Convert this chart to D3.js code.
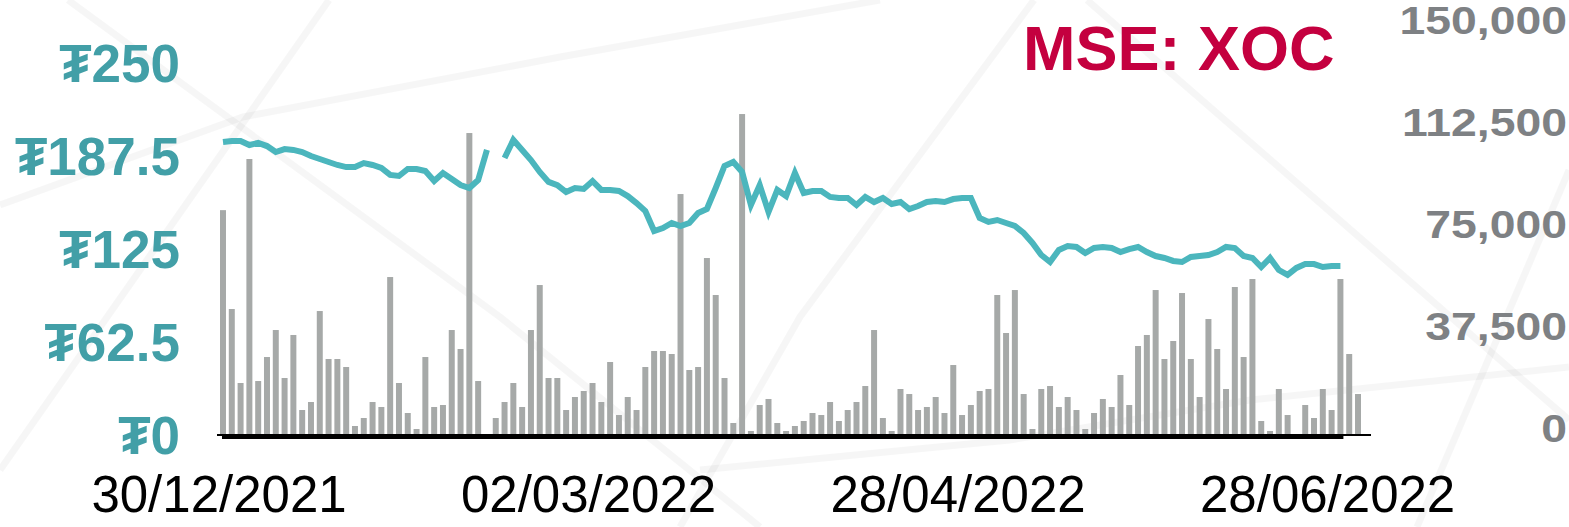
<!DOCTYPE html>
<html lang="mn">
<head>
  <meta charset="UTF-8">
  <title>MSE: XOC</title>
  <style>
    body {
      margin: 0;
      background: #fff;
    }
    svg {
      display: block;
    }
    text {
      font-family: "Liberation Sans", Arial, Helvetica, sans-serif;
    }
  </style>
</head>
<body>
  <svg id="chart" width="1569" height="527"></svg>

  <script src="https://d3js.org/d3.v7.min.js"></script>
  <script>
    // daily traded volume (right axis)
    const volume = [
      82300, 45950, 18750, 101100, 19480, 28300, 38230, 20590, 36400, 8820,
      11760, 45210, 27570, 27570, 24630, 2940, 5880, 11760, 9930, 57710,
      18750, 7720, 1840, 28300, 9930, 10660, 38230, 31250, 110650, 19480,
      0, 5880, 11760, 18750, 9930, 38230, 54770, 20590, 20590, 8820,
      13600, 15810, 18750, 11760, 26470, 6980, 13600, 8820, 24630, 30510,
      30510, 29410, 88220, 23530, 24630, 64700, 51100, 20590, 4040, 117630,
      1100, 10660, 12870, 4040, 1100, 2940, 4780, 7720, 6980, 11760,
      4780, 8820, 11760, 17640, 38230, 5880, 1100, 16540, 14700, 8820,
      9930, 13600, 7720, 25360, 6980, 10660, 15810, 16540, 51100, 37130,
      52930, 14700, 1840, 16540, 17640, 9930, 13600, 8820, 1840, 7720,
      12870, 9930, 21690, 10660, 32350, 36400, 52930, 27570, 34190, 51830,
      27570, 13600, 42270, 31250, 16540, 54040, 28300, 56980, 4780, 1100,
      16540, 6980, 0, 10660, 5880, 16540, 8820, 56980, 29410, 14700
    ];

    // closing price in tugrik (left axis), null = no trade
    const price = [
      196.2, 196.9, 196.9, 194.2, 195.6, 193.5, 189.5, 191.5, 190.9, 189.5,
      186.8, 184.8, 182.8, 180.8, 179.4, 179.4, 182.1, 180.8, 178.8, 174.1,
      173.4, 178.1, 178.1, 176.7, 170.0, 175.4, 171.4, 167.3, 165.3, 170.7,
      190.9, null, 185.5, 197.6, 190.9, 184.1, 176.1, 169.4, 167.3, 162.6,
      165.3, 164.7, 170.0, 164.0, 164.0, 163.3, 159.9, 155.2, 149.9, 136.4,
      138.4, 141.8, 139.8, 141.8, 148.5, 151.2, 165.3, 180.1, 182.8, 176.1,
      153.9, 167.3, 149.2, 164.0, 159.9, 175.4, 162.0, 163.3, 163.3, 159.3,
      158.6, 158.6, 153.9, 159.3, 155.9, 158.6, 154.6, 155.9, 151.2, 153.2,
      155.9, 156.6, 155.9, 157.9, 158.6, 158.6, 145.2, 142.5, 143.8, 141.8,
      139.8, 135.1, 128.4, 120.3, 115.6, 123.7, 126.3, 125.7, 121.6, 125.0,
      125.7, 125.0, 122.3, 124.3, 125.7, 122.3, 119.6, 118.3, 116.3, 115.6,
      119.0, 119.6, 120.3, 122.3, 125.7, 125.0, 119.6, 118.3, 112.2, 118.3,
      110.2, 106.9, 111.6, 114.2, 114.2, 112.2, 112.9, 112.9, null, null
    ];

    const dateTicks = [0, 42, 84, 126];
    const dateLabels = ["30/12/2021", "02/03/2022", "28/04/2022", "28/06/2022"];
    const priceTicks = [0, 62.5, 125, 187.5, 250];
    const volumeTicks = [0, 37500, 75000, 112500, 150000];
    const title = "MSE: XOC";

    // faint decorative background strokes
    const bgLines = [
      [[68, 0], [500, 317], [760, 527]],
      [[0, 205], [243, 117], [560, 57], [880, 0]],
      [[329, 0], [0, 470]],
      [[1034, 0], [800, 317], [680, 527]],
      [[1087, 0], [1569, 420]],
      [[1569, 170], [1417, 527]],
      [[700, 470], [1010, 440], [1250, 400], [1569, 367]]
    ];

    const svg = d3.select("#chart");
    const base = 434;

    svg.append("g")
      .selectAll("path")
      .data(bgLines)
      .join("path")
      .attr("d", d3.line())
      .attr("fill", "none")
      .attr("stroke", "#000")
      .attr("stroke-opacity", 0.035)
      .attr("stroke-width", 7);

    const x = d3.scaleBand()
      .domain(d3.range(volume.length))
      .range([220, 1361])
      .paddingInner(0.32)
      .paddingOuter(0);
    const bw = x.bandwidth();

    const yVol = d3.scaleLinear().domain([0, 150000]).range([base, 26]);
    const yPrice = d3.scaleLinear().domain([0, 250]).range([base, 62]);

    // volume bars
    svg.append("g")
      .selectAll("rect")
      .data(volume)
      .join("rect")
      .attr("x", (d, i) => x(i))
      .attr("y", d => yVol(d))
      .attr("width", bw)
      .attr("height", d => base - yVol(d))
      .attr("fill", "#a6a9a8");

    // baselines (bar axis + line axis)
    svg.append("line")
      .attr("x1", x(0) - 3).attr("x2", x(volume.length - 1) + bw + 10)
      .attr("y1", base + 1).attr("y2", base + 1)
      .attr("stroke", "#000").attr("stroke-width", 2);
    const lastPrice = d3.max(price.map((d, i) => d == null ? -1 : i));
    svg.append("line")
      .attr("x1", x(0) + 2).attr("x2", x(lastPrice) + bw)
      .attr("y1", base + 3.5).attr("y2", base + 3.5)
      .attr("stroke", "#000").attr("stroke-width", 3);

    // price line
    const line = d3.line()
      .defined(d => d != null)
      .x((d, i) => x(i) + bw / 2)
      .y(d => yPrice(d));

    svg.append("path")
      .datum(price)
      .attr("d", line)
      .attr("fill", "none")
      .attr("stroke", "#4bb6bd")
      .attr("stroke-width", 6);

    // left axis (price)
    svg.append("g")
      .selectAll("text")
      .data(priceTicks)
      .join("text")
      .attr("x", 180)
      .attr("y", d => yPrice(d) + 20)
      .attr("text-anchor", "end")
      .attr("font-size", 53)
      .attr("font-weight", "bold")
      .attr("fill", "#429fa7")
      .text(d => "₮" + d);

    // right axis (volume), glyphs a bit wider than normal
    svg.append("g")
      .selectAll("text")
      .data(volumeTicks)
      .join("text")
      .attr("transform", d => `translate(1567,${yVol(d) + 8}) scale(1.22,1)`)
      .attr("text-anchor", "end")
      .attr("font-size", 38)
      .attr("font-weight", "bold")
      .attr("fill", "#7e8184")
      .text(d => d3.format(",")(d));

    // date labels
    svg.append("g")
      .selectAll("text")
      .data(dateTicks)
      .join("text")
      .attr("x", (d, i) => x(d) - 1)
      .attr("y", 512)
      .attr("text-anchor", "middle")
      .attr("font-size", 51)
      .attr("fill", "#000")
      .text((d, i) => dateLabels[i]);

    svg.append("text")
      .attr("x", 1023)
      .attr("y", 70)
      .attr("font-size", 63)
      .attr("font-weight", "bold")
      .attr("fill", "#c4003f")
      .text(title);
  </script>
</body>
</html>
